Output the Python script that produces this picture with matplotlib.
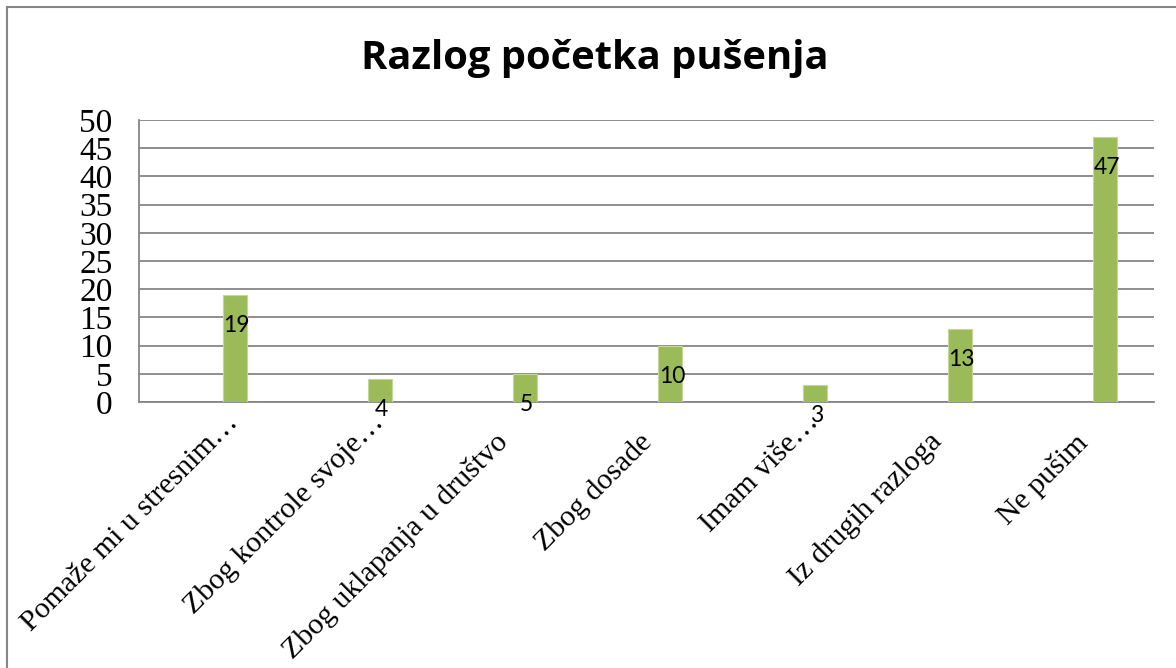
import matplotlib.pyplot as plt
import matplotlib.transforms as mtransforms
import numpy as np

categories = ["Pomaže mi u stresnim…", "Zbog kontrole svoje…", "Zbog uklapanja u društvo",
              "Zbog dosade", "Imam više…", "Iz drugih razloga", "Ne pušim"]
values = [19, 4, 5, 10, 3, 13, 47]
yticks = [0, 5, 10, 15, 20, 25, 30, 35, 40, 45, 50]

fig = plt.figure(figsize=(11.76, 6.68), dpi=100)
ax = fig.add_axes([139 / 1176, 1 - 402 / 668, (1154 - 139) / 1176, (402 - 120) / 668])

x = np.arange(len(categories))
off = 0.165
ax.bar(x + off, values, width=0.165, color="#9BBB59", edgecolor="#C3D69B",
       linewidth=0.8, zorder=3)

ax.set_xlim(-0.5, len(categories) - 0.5)
ax.set_ylim(0, 50)
ax.set_yticks(yticks)
ax.set_yticklabels([str(t) for t in yticks], family="Liberation Serif", fontsize=24)
ax.yaxis.grid(True, color="#868686", linewidth=1.3, zorder=0)
ax.tick_params(axis="y", length=0, pad=19)

ax.set_xticks(x - 0.05)
ax.set_xticklabels(categories, rotation=45, ha="right", va="top", rotation_mode="anchor",
                   family="Liberation Serif", fontsize=21.5)
ax.tick_params(axis="x", length=0, pad=19.4)
# truncated labels sit a bit further up the diagonal in the original
for lab in ax.get_xticklabels():
    if lab.get_text().endswith("…"):
        lab.set_transform(lab.get_transform() +
                          mtransforms.ScaledTranslation(0.21, 0.195, fig.dpi_scale_trans))

for s in ["top", "right"]:
    ax.spines[s].set_visible(False)
for s in ["left", "bottom"]:
    ax.spines[s].set_color("#868686")
    ax.spines[s].set_linewidth(1.3)

# data labels just inside the bar top
for xi, v in zip(x + off, values):
    ax.annotate(str(v), (xi, v), xytext=(1, -22), textcoords="offset points",
                ha="center", va="center", family="Lato", fontsize=16.5, zorder=4)

fig.text(595 / 1176, 1 - 58 / 668, "Razlog početka pušenja", ha="center", va="center",
         family="Open Sans", fontweight="bold", fontsize=28.7)

# outer chart border (top and left visible)
fig.add_artist(plt.Line2D([7 / 1176, 1], [1 - 7 / 668, 1 - 7 / 668], color="#868686", linewidth=1.5))
fig.add_artist(plt.Line2D([7 / 1176, 7 / 1176], [0, 1 - 7 / 668], color="#868686", linewidth=1.5))

fig.savefig("out.png", dpi=100)
